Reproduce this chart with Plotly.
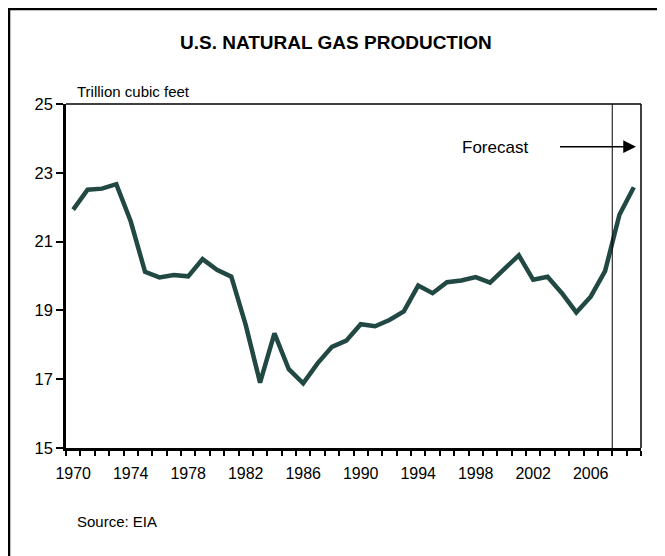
import plotly.graph_objects as go

# U.S. marketed natural gas production, trillion cubic feet (2008-2009 forecast)
years = list(range(1970, 2010))
production = [
    21.93, 22.51, 22.54, 22.67, 21.59, 20.12, 19.96, 20.03, 19.99, 20.49,
    20.18, 19.98, 18.58, 16.90, 18.33, 17.29, 16.88, 17.46, 17.94, 18.12,
    18.60, 18.54, 18.72, 18.97, 19.72, 19.50, 19.82, 19.87, 19.97, 19.81,
    20.21, 20.60, 19.89, 19.98, 19.50, 18.94, 19.40, 20.14, 21.78, 22.58,
]
label_years = list(range(1970, 2007, 4))
forecast_start = 2007.5

FONT = "Liberation Sans, Arial, sans-serif"
LINE_COLOR = "#214842"

fig = go.Figure()

fig.add_trace(go.Scatter(
    x=years,
    y=production,
    mode="lines",
    line=dict(color=LINE_COLOR, width=4.5),
    hoverinfo="x+y",
    showlegend=False,
))

fig.update_layout(
    width=665,
    height=556,
    margin=dict(l=58, r=32, t=96, b=116),
    paper_bgcolor="white",
    plot_bgcolor="white",
    font=dict(family=FONT, size=16, color="black"),
    shapes=[
        # outer chart frame (only left and top edges fall inside the page)
        dict(type="rect", xref="paper", yref="paper",
             x0=-0.0991, x1=1.2, y0=-0.5, y1=1.276,
             line=dict(color="black", width=2.5)),
        # thin top and right plot borders
        dict(type="line", xref="paper", yref="paper",
             x0=0, x1=1, y0=1, y1=1, line=dict(color="black", width=1.5)),
        dict(type="line", xref="paper", yref="paper",
             x0=1, x1=1, y0=0, y1=1, line=dict(color="black", width=1.5)),
        # forecast divider
        dict(type="line", xref="x", yref="paper",
             x0=forecast_start, x1=forecast_start, y0=0, y1=1,
             line=dict(color="black", width=1)),
    ],
    annotations=[
        dict(text="<b>U.S. NATURAL GAS PRODUCTION</b>", xref="paper", yref="paper",
             x=0.47, y=1.18, yanchor="middle", showarrow=False, font=dict(size=19)),
        dict(text="Trillion cubic feet", xref="paper", yref="paper",
             x=0.015, y=1.035, xanchor="left", yanchor="middle", showarrow=False,
             font=dict(size=15)),
        dict(text="Forecast", xref="paper", yref="paper",
             x=0.686, y=0.875, xanchor="left", yanchor="middle", showarrow=False,
             font=dict(size=17)),
        dict(text="Source: EIA", xref="paper", yref="paper",
             x=0.015, y=-0.215, xanchor="left", yanchor="middle", showarrow=False,
             font=dict(size=15)),
        # forecast arrow
        dict(x=2009.15, y=23.76, ax=2003.76, ay=23.76, xref="x", yref="y",
             axref="x", ayref="y", text="", showarrow=True,
             arrowhead=2, arrowsize=1.7, arrowwidth=1.5, arrowcolor="black"),
    ],
)

fig.update_xaxes(
    range=[1969.5, 2009.5],
    tickmode="array",
    tickvals=label_years,
    ticktext=[str(y) for y in label_years],
    ticks="",
    ticklabelstandoff=9,
    minor=dict(ticks="outside", tick0=1969.5, dtick=1, ticklen=5,
               tickwidth=1.7, tickcolor="black", showgrid=False),
    showline=True, linecolor="black", linewidth=2.5,
    showgrid=False, zeroline=False,
    tickfont=dict(size=16),
)
fig.update_yaxes(
    range=[15, 25],
    tick0=15,
    dtick=2,
    ticks="outside", ticklen=7, tickwidth=1.7, tickcolor="black",
    showline=True, linecolor="black", linewidth=2.5,
    showgrid=False, zeroline=False,
    tickfont=dict(size=16.5),
)

fig.write_html("out.html")
